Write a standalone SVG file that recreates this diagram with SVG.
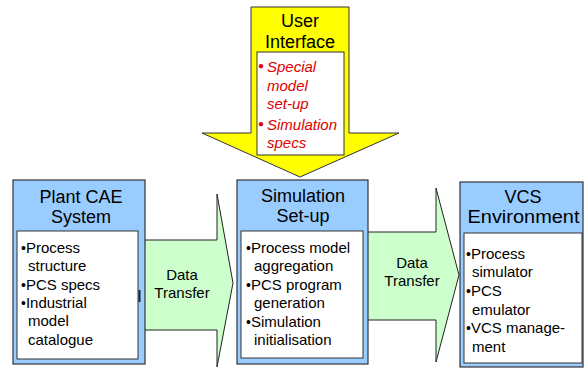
<svg xmlns="http://www.w3.org/2000/svg" width="585" height="369" viewBox="0 0 585 369">
<style>
.outer{fill:#99CCFF;stroke:#333;stroke-width:1.2}
.inner{fill:#fff;stroke:#333;stroke-width:1}
.arrow{fill:#CCFFCC;stroke:#222;stroke-width:1}
.yarrow{fill:#FFFF00;stroke:#333;stroke-width:1}
text{font-family:"Liberation Sans",Arial,sans-serif;fill:#000}
.title{font-size:18px;text-anchor:middle}
.item{font-size:15px}
.lbl{font-size:15px;text-anchor:middle}
.red{font-size:15px;font-style:italic;fill:#DD0000}
.b{font-size:14px}
.rb{font-size:10px;fill:#DD0000}
</style>
<g id="connectors">
<polygon class="arrow" points="140,240 217,240 217,194 233,283 217,367 217,330 140,330"/>
<polygon class="arrow" points="366,232 436,232 436,188 459,275 436,362 436,320 366,320"/>
</g>
<g id="transfer1">
<text class="lbl" x="182" y="280">Data</text>
<text class="lbl" x="182" y="298">Transfer</text>
</g>
<g id="transfer2">
<text class="lbl" x="412" y="268">Data</text>
<text class="lbl" x="412" y="286">Transfer</text>
</g>
<g id="user-interface">
<polygon class="yarrow" points="251,7 349,7 349,133 399,133 300,177 202,133 251,133"/>
<rect class="inner" x="257" y="52" width="87" height="103"/>
<text class="title" x="300" y="27">User</text>
<text class="title" x="300" y="48">Interface</text>
<text class="rb" x="258" y="69">●</text>
<text class="red" x="267" y="72">Special</text>
<text class="red" x="267" y="91">model</text>
<text class="red" x="267" y="109">set-up</text>
<text class="rb" x="258" y="127">●</text>
<text class="red" x="267" y="130">Simulation</text>
<text class="red" x="267" y="148">specs</text>
</g>
<g id="plant-cae">
<rect class="outer" x="13" y="180" width="132" height="184"/>
<rect class="inner" x="17" y="231" width="121" height="128"/>
<rect x="138.5" y="290" width="2" height="12" fill="#222"/>
<text class="title" x="81" y="203">Plant CAE</text>
<text class="title" x="81" y="223">System</text>
<text class="item" x="21" y="253"><tspan class="b">•</tspan>Process</text>
<text class="item" x="28" y="271">structure</text>
<text class="item" x="21" y="290"><tspan class="b">•</tspan>PCS specs</text>
<text class="item" x="21" y="308"><tspan class="b">•</tspan>Industrial</text>
<text class="item" x="28" y="326">model</text>
<text class="item" x="28" y="345">catalogue</text>
</g>
<g id="simulation-setup">
<rect class="outer" x="237" y="180" width="131" height="184"/>
<rect class="inner" x="241" y="231" width="122" height="127"/>
<text class="title" x="303" y="202">Simulation</text>
<text class="title" x="303" y="222">Set-up</text>
<text class="item" x="246" y="253"><tspan class="b">•</tspan>Process model</text>
<text class="item" x="254" y="271">aggregation</text>
<text class="item" x="246" y="290"><tspan class="b">•</tspan>PCS program</text>
<text class="item" x="254" y="308">generation</text>
<text class="item" x="246" y="327"><tspan class="b">•</tspan>Simulation</text>
<text class="item" x="254" y="345">initialisation</text>
</g>
<g id="vcs-environment">
<rect class="outer" x="460" y="182" width="123" height="185"/>
<rect class="inner" x="464" y="233" width="118" height="130"/>
<text class="title" x="523" y="203">VCS</text>
<text class="title" x="523.5" y="223" textLength="112" lengthAdjust="spacingAndGlyphs">Environment</text>
<text class="item" x="466" y="259"><tspan class="b">•</tspan>Process</text>
<text class="item" x="472" y="277">simulator</text>
<text class="item" x="466" y="296"><tspan class="b">•</tspan>PCS</text>
<text class="item" x="472" y="315">emulator</text>
<text class="item" x="466" y="333"><tspan class="b">•</tspan>VCS manage-</text>
<text class="item" x="472" y="352">ment</text>
</g>
</svg>
